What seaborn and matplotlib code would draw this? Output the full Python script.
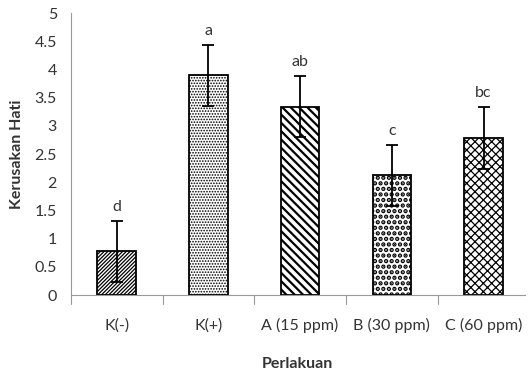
import matplotlib
matplotlib.use("Agg")
import matplotlib.pyplot as plt
import seaborn as sns
import pandas as pd

categories = ["K(-)", "K(+)", "A (15 ppm)", "B (30 ppm)", "C (60 ppm)"]
values = [0.78, 3.90, 3.34, 2.12, 2.78]
errors = [0.54, 0.54, 0.54, 0.54, 0.55]
letters = ["d", "a", "ab", "c", "bc"]
yticks = [0, 0.5, 1, 1.5, 2, 2.5, 3, 3.5, 4, 4.5, 5]
ytick_labels = ["0", "0.5", "1", "1.5", "2", "2.5", "3", "3.5", "4", "4.5", "5"]

sns.set_style("white")
plt.rcParams['font.family'] = ['Lato', 'DejaVu Sans']
plt.rcParams['hatch.linewidth'] = 1.0

df = pd.DataFrame({"Perlakuan": categories, "Kerusakan Hati": values})

fig = plt.figure(figsize=(5.29, 3.73), dpi=100)
ax = fig.add_axes([0.134, 0.209, 0.858, 0.756])

sns.barplot(data=df, x="Perlakuan", y="Kerusakan Hati", ax=ax, color="white",
            width=0.42, edgecolor="black", linewidth=1.3, errorbar=None)

hatches = ["/////////", "......", "\\\\\\\\", "...", "xxxx"]
hcolors = ["#222222", "#999999", "black", "black", "#999999"]
hwidths = [0.9, 0.8, 1.6, 2.2, 0.9]
for patch, h, hc, hw in zip(ax.patches, hatches, hcolors, hwidths):
    patch.set_hatch(h)
    if hasattr(patch, "set_hatchcolor"):
        patch.set_hatchcolor(hc)
    if hasattr(patch, "set_hatch_linewidth"):
        patch.set_hatch_linewidth(hw)
    patch.set_edgecolor("black")

ax.errorbar(x=categories, y=values, yerr=errors, fmt="none", ecolor="black",
            elinewidth=1.3, capsize=4, capthick=1.3, zorder=5)

for cat, v, e, t in zip(categories, values, errors, letters):
    ax.annotate(t, xy=(cat, v + e), xytext=(0, 5), textcoords="offset points",
                ha="center", va="bottom", fontsize=11.5, color="#333333")

ax.set_ylim(0, 5)
ax.set_xlim(-0.5, 4.45)
ax.set_yticks(yticks)
ax.set_yticklabels(ytick_labels)
ax.tick_params(axis="y", direction="out", length=4, color="#999999", labelsize=11.5, labelcolor="#333333", pad=6)
ax.tick_params(axis="x", bottom=False, labelsize=11.5, labelcolor="#333333", pad=13)
for x in [-0.5, 0.5, 1.5, 2.5, 3.5]:
    ax.plot([x, x], [0, -0.03], transform=ax.get_xaxis_transform(), color="#999999", lw=0.8, clip_on=False)

for s in ["top", "right"]:
    ax.spines[s].set_visible(False)
ax.spines["left"].set_color("#999999")
ax.spines["bottom"].set_color("#999999")
ax.spines["left"].set_linewidth(0.8)
ax.spines["bottom"].set_linewidth(0.8)

ax.set_ylabel("Kerusakan Hati", fontsize=11.5, fontweight="bold", color="#333333", labelpad=8)
ax.set_xlabel("Perlakuan", fontsize=11.5, fontweight="bold", color="#333333", labelpad=17)

fig.savefig("out.png", dpi=100)
